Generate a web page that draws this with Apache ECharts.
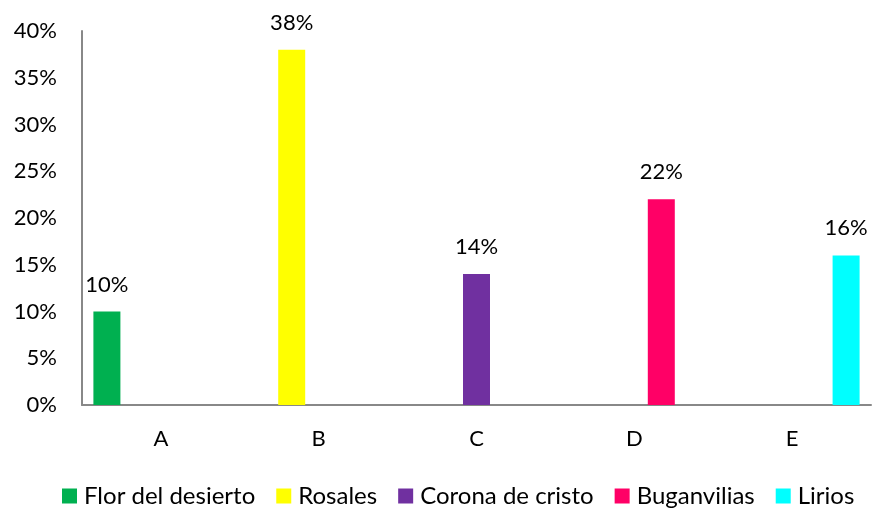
<!DOCTYPE html>
<html>
<head>
<meta charset="utf-8">
<script src="https://cdn.jsdelivr.net/npm/echarts@6/dist/echarts.min.js"></script>
<style>html,body{margin:0;padding:0;background:#fff}#c{width:875px;height:510px}</style>
</head>
<body>
<div id="c"></div>
<script>
const categories = ['A', 'B', 'C', 'D', 'E'];
const seriesNames = ['Flor del desierto', 'Rosales', 'Corona de cristo', 'Buganvilias', 'Lirios'];
const florDelDesierto = [10, '-', '-', '-', '-'];
const rosales = ['-', 38, '-', '-', '-'];
const coronaDeCristo = ['-', '-', 14, '-', '-'];
const buganvilias = ['-', '-', '-', 22, '-'];
const lirios = ['-', '-', '-', '-', 16];
const yTicks = [0, 5, 10, 15, 20, 25, 30, 35, 40];
const colors = ['#00B050', '#FFFF00', '#7030A0', '#FF0066', '#00FFFF'];

const seriesData = [florDelDesierto, rosales, coronaDeCristo, buganvilias, lirios];
const FONT = 'Lato';
const chart = echarts.init(document.getElementById('c'));
chart.setOption({
  animation: false,
  textStyle: { fontFamily: FONT },
  grid: { left: 82, right: 4, top: 31, bottom: 105, containLabel: false },
  legend: {
    bottom: -3,
    left: 57,
    itemWidth: 15, itemHeight: 15, itemGap: 21,
    icon: 'rect',
    textStyle: { fontFamily: FONT, fontSize: 24, color: '#000', padding: [0, 0, 0, 2] },
    data: seriesNames
  },
  xAxis: {
    type: 'category',
    data: categories,
    axisLine: { lineStyle: { color: '#888', width: 2 } },
    axisTick: { show: false },
    axisLabel: { fontFamily: FONT, fontSize: 22, color: '#000', margin: 23 }
  },
  yAxis: {
    type: 'value',
    min: yTicks[0], max: yTicks[yTicks.length - 1], interval: 5,
    axisLine: { show: true, lineStyle: { color: '#888', width: 2 } },
    axisTick: { show: false },
    splitLine: { show: false },
    axisLabel: { fontFamily: FONT, fontSize: 22, color: '#000', margin: 25, formatter: '{value}%' }
  },
  series: seriesData.map((d, i) => ({
    name: seriesNames[i],
    type: 'bar',
    data: d,
    barWidth: 27,
    barGap: '0%',
    itemStyle: { color: colors[i] },
    label: { show: true, position: 'top', distance: 16, formatter: '{c}%', fontFamily: FONT, fontSize: 22, color: '#000' }
  }))
});
</script>
</body>
</html>
